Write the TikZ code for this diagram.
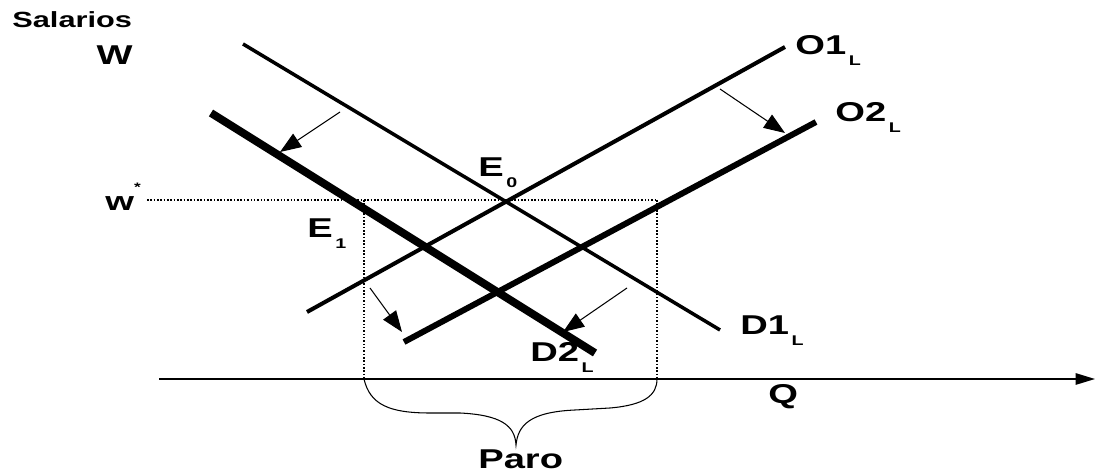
\documentclass[tikz,border=0pt]{standalone}
\usepackage{fontspec}
\setmainfont{Liberation Sans}[FakeStretch=1.4]
\usetikzlibrary{arrows.meta}
\newcommand{\lsub}[1]{\hspace{1.5pt}\raisebox{-6pt}{\fontsize{8}{9}\selectfont #1}}

\begin{document}
\begin{tikzpicture}[x=0.2mm,y=-0.2mm,font=\bfseries\fontsize{15.5}{17}\selectfont]
	\useasboundingbox (0,0) rectangle (1095,476);
	% ends of the four curves
	\coordinate (D1a) at (243,44);
	\coordinate (D1b) at (720,330);
	\coordinate (D2a) at (211,113);
	\coordinate (D2b) at (595,353);
	\coordinate (O1a) at (307,312);
	\coordinate (O1b) at (785,47);
	\coordinate (O2a) at (404,342);
	\coordinate (O2b) at (816,122);
	% axis and guides
	\coordinate (ax0) at (159,379);
	\coordinate (ax1) at (1095,379);
	\coordinate (ws) at (147,200);
	\coordinate (P1) at (364,200);
	\coordinate (P2) at (657,200);
	\coordinate (Q1) at (364,379);
	\coordinate (Q2) at (657,379);
	\draw [line width=0.8pt,-{Triangle[length=11pt,width=6.5pt]}] (ax0) -- (ax1);
	\draw [line width=0.9pt,densely dotted] (ws) -- (P2);
	\draw [line width=0.9pt,densely dotted] (P1) -- (Q1);
	\draw [line width=0.9pt,densely dotted] (P2) -- (Q2);
	\draw [line width=2pt] (D1a) -- (D1b);
	\draw [line width=4.5pt] (D2a) -- (D2b);
	\draw [line width=2.3pt] (O1a) -- (O1b);
	\draw [line width=3.4pt] (O2a) -- (O2b);
	% shifts
	\begin{scope}[line width=0.6pt,-{Triangle[length=12pt,width=9pt]}]
	\coordinate (s1) at (340,112);
	\coordinate (t1) at (280,152);
	\coordinate (s2) at (720,89);
	\coordinate (t2) at (785,133);
	\coordinate (s3) at (370,288);
	\coordinate (t3) at (402,332);
	\coordinate (s4) at (627,288);
	\coordinate (t4) at (563,332);
	\draw (s1) -- (t1);
	\draw (s2) -- (t2);
	\draw (s3) -- (t3);
	\draw (s4) -- (t4);
	\end{scope}
	% brace under the gap
	\draw [line width=0.6pt] (Q1) .. controls (370,405) and (390,413) .. (430,413)
		-- (460,413) .. controls (500,415) and (515,425) .. (516,445)
		.. controls (518,425) and (530,412) .. (575,410)
		-- (610,408) .. controls (645,405) and (657,395) .. (Q2);
	\begin{scope}[every node/.style={anchor=base west,inner sep=0pt}]
	\node (sal) at (12,28) {\fontsize{12.5}{14}\selectfont Salarios};
	\node[anchor=base east] (W) at (133,65) {W};
	\node (wst) at (105,211) {\fontsize{15}{16}\selectfont w\raisebox{11pt}{\fontsize{7}{7}\selectfont *}};
	\node (O1) at (795,55) {O1\lsub{L}};
	\node (O2) at (835,122) {O2\lsub{L}};
	\node (E0) at (478,177) {E\lsub{0}};
	\node (E1) at (307,238) {E\lsub{1}};
	\node (D1) at (740,335) {D1\lsub{L}};
	\node (D2) at (530,362) {D2\lsub{L}};
	\node (Q) at (768,404) {Q};
	\node (paro) at (478,469) {Paro};
	\end{scope}
\end{tikzpicture}
\end{document}
